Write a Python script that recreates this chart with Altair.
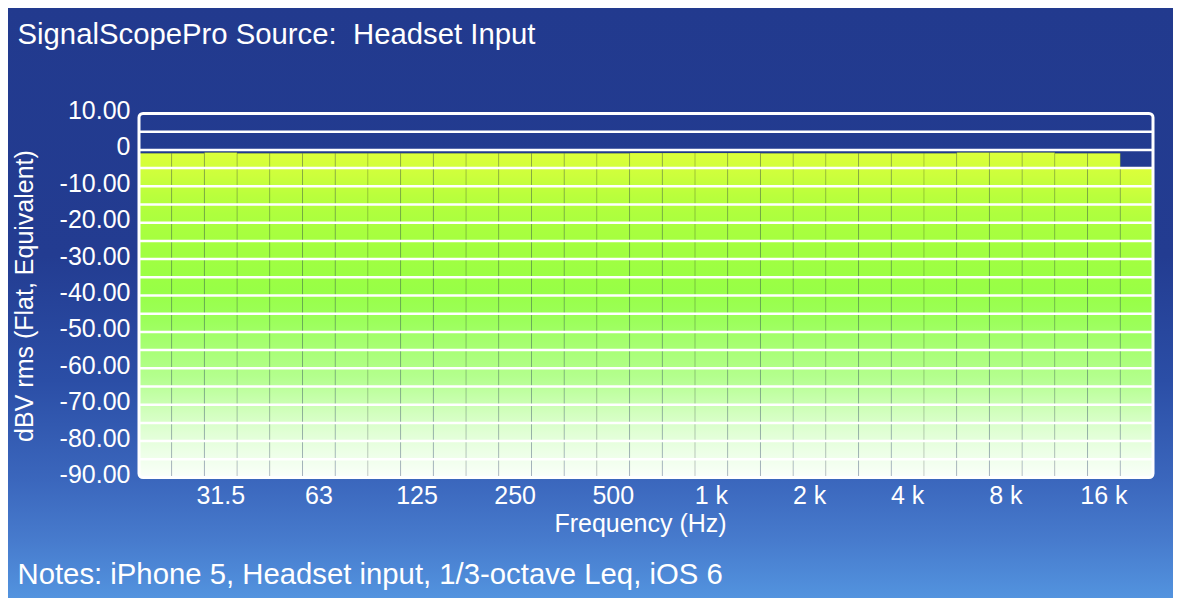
import altair as alt
import pandas as pd

# ---- data ----
bands = ["20", "25", "31.5", "40", "50", "63", "80", "100", "125", "160",
         "200", "250", "315", "400", "500", "630", "800", "1 k", "1.25 k", "1.6 k",
         "2 k", "2.5 k", "3.15 k", "4 k", "5 k", "6.3 k", "8 k", "10 k", "12.5 k", "16 k",
         "20 k"]
levels = [-0.95, -0.95, -0.7, -0.95, -0.95, -0.95, -0.95, -0.95, -0.95, -0.95,
          -0.95, -0.95, -0.95, -0.95, -0.95, -0.85, -0.85, -0.85, -0.85, -0.95,
          -0.95, -0.95, -0.95, -0.95, -0.95, -0.7, -0.7, -0.7, -0.95, -0.95,
          -5.0]
tick_bands = ["31.5", "63", "125", "250", "500", "1 k", "2 k", "4 k", "8 k", "16 k"]
y_ticks = [10, 0, -10, -20, -30, -40, -50, -60, -70, -80, -90]
grid_levels = [5, 0, -5, -10, -15, -20, -25, -30, -35, -40, -45, -50, -55,
               -60, -65, -70, -75, -80, -85]
floor_db = -90

title_text = "SignalScopePro Source:\u00a0 Headset Input"
notes_text = "Notes: iPhone 5, Headset input, 1/3-octave Leq, iOS 6"
y_title = "dBV rms (Flat, Equivalent)"
x_title = "Frequency (Hz)"

FONT = "Liberation Sans"
W, H = 1014, 364
PAD = {"left": 131, "top": 105.5, "right": 20, "bottom": 120.5}
AX_FS = 25
BIG_FS = 29.3

bars_df = pd.DataFrame({"band": bands, "db": levels})
grid_df = pd.DataFrame({"db": grid_levels})
title_df = pd.DataFrame({"t": [title_text]})
notes_df = pd.DataFrame({"t": [notes_text]})
bg_df = pd.DataFrame({"k": [0]})

bg_grad = {
    "gradient": "linear", "x1": 0, "y1": 0, "x2": 0, "y2": 1,
    "stops": [
        {"offset": 0.0, "color": "#223a8e"},
        {"offset": 0.42, "color": "#233c91"},
        {"offset": 0.63, "color": "#2b4ea6"},
        {"offset": 0.80, "color": "#3b67bd"},
        {"offset": 0.90, "color": "#477bcd"},
        {"offset": 1.0, "color": "#5394df"},
    ],
}
bar_grad = {
    "gradient": "linear", "x1": 0, "y1": 0, "x2": 0, "y2": 1,
    "stops": [
        {"offset": 0.0, "color": "#dcff3a"},
        {"offset": 0.07, "color": "#ccff3c"},
        {"offset": 0.13, "color": "#baff3c"},
        {"offset": 0.19, "color": "#aeff3e"},
        {"offset": 0.30, "color": "#a2ff40"},
        {"offset": 0.42, "color": "#98ff46"},
        {"offset": 0.52, "color": "#9cff5c"},
        {"offset": 0.60, "color": "#a8ff74"},
        {"offset": 0.69, "color": "#b4ff8e"},
        {"offset": 0.75, "color": "#c4ffa8"},
        {"offset": 0.80, "color": "#d2ffbe"},
        {"offset": 0.86, "color": "#e0ffd4"},
        {"offset": 0.92, "color": "#ecffe6"},
        {"offset": 1.0, "color": "#fafffa"},
    ],
}

yscale = alt.Scale(domain=[floor_db, 10], zero=False, nice=False)
yaxis = alt.Axis(
    values=y_ticks,
    labelExpr="datum.value == 0 ? '0' : (datum.value < 0 ? '-' : '') + format(abs(datum.value), '.2f')",
    ticks=False, domain=False, grid=False,
    labelPadding=9, labelFontSize=AX_FS, labelColor="white", labelFont=FONT,
    labelOffset=-3, labelBaseline="middle",
    titleFontSize=AX_FS, titleColor="white", titleFont=FONT, titleFontWeight="normal",
    titleX=-106.5, titleY=182, titleAngle=270, titleAlign="center",
    titleBaseline="alphabetic", zindex=1,
)
y_enc = alt.Y("db:Q", scale=yscale, axis=yaxis, title=y_title)

xaxis = alt.Axis(
    values=tick_bands, ticks=False, domain=False, grid=False, labelAngle=0,
    labelPadding=6, labelFontSize=AX_FS, labelColor="white", labelFont=FONT,
    labelBaseline="top",
    titleFontSize=AX_FS, titleColor="white", titleFont=FONT, titleFontWeight="normal",
    titleX=501, titleY=54, titleAlign="center", titleBaseline="alphabetic",
    zindex=1,
)

background = alt.Chart(bg_df).mark_rect(fill=bg_grad, strokeWidth=0).encode(
    x=alt.value(-PAD["left"] - 2), x2=alt.value(W + PAD["right"] + 2),
    y=alt.value(-PAD["top"] - 2), y2=alt.value(H + PAD["bottom"] + 2),
)

bars = alt.Chart(bars_df).mark_bar(
    fill=bar_grad, stroke="#000000", strokeOpacity=0.13, strokeWidth=1
).encode(
    x=alt.X("band:N", sort=bands,
            scale=alt.Scale(domain=bands, paddingInner=0, paddingOuter=0),
            axis=xaxis, title=x_title),
    y=y_enc,
    y2=alt.datum(floor_db),
)

grid = alt.Chart(grid_df).mark_rule(color="white", strokeWidth=2.5).encode(y=y_enc)

border = alt.Chart(bg_df).mark_rect(
    filled=False, stroke="white", strokeWidth=3, cornerRadius=4
).encode(
    x=alt.value(0), x2=alt.value("width"), y=alt.value(0), y2=alt.value("height")
)

title = alt.Chart(title_df).mark_text(
    align="left", baseline="alphabetic", fontSize=BIG_FS, color="white", font=FONT
).encode(text="t:N", x=alt.value(-121.5), y=alt.value(-70))

notes = alt.Chart(notes_df).mark_text(
    align="left", baseline="alphabetic", fontSize=BIG_FS, color="white", font=FONT
).encode(text="t:N", x=alt.value(-121.5), y=alt.value(470.5))

chart = alt.layer(background, bars, grid, border, title, notes).properties(
    width=W, height=H, padding=PAD, autosize="none", background="#223a8e"
).configure_view(strokeWidth=0).configure(font=FONT)

chart.save("out.html", embed_options={"renderer": "svg", "actions": False})
